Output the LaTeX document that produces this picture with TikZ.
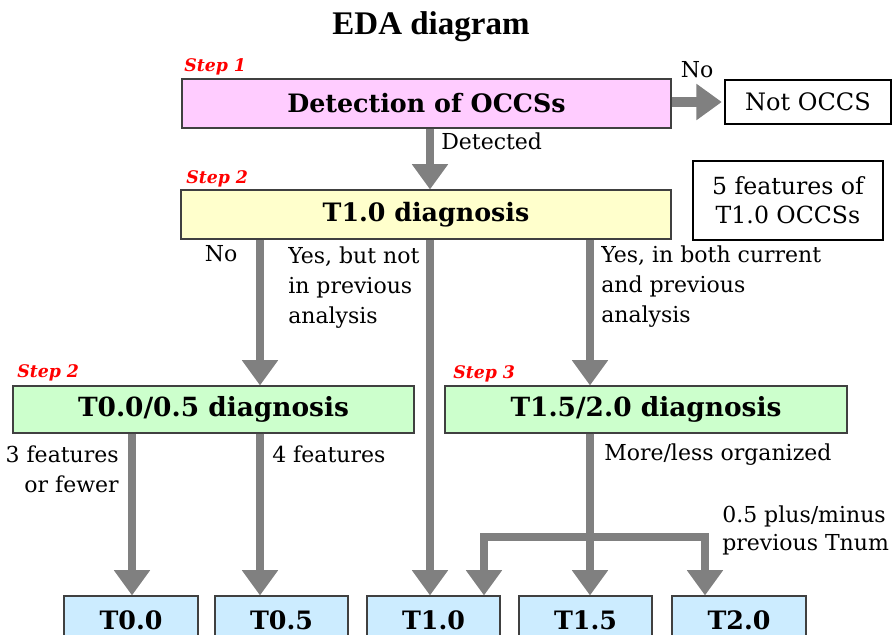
\documentclass[tikz,border=0pt]{standalone}
\usepackage{fontspec}
\setmainfont{DejaVu Serif}
\newfontfamily\titlefont{Liberation Serif}
\usetikzlibrary{arrows.meta}
\definecolor{stepred}{HTML}{FF0000}
\definecolor{arrowgrey}{HTML}{808080}
\definecolor{boxpink}{HTML}{FFCCFF}
\definecolor{boxyellow}{HTML}{FFFFCC}
\definecolor{boxgreen}{HTML}{CCFFCC}
\definecolor{boxblue}{HTML}{CCECFF}
\tikzset{
  sizebox/.style 2 args={minimum width=#1*0.75pt, minimum height=#2*0.75pt},
  flowbox/.style={draw=black!75, line width=0.8pt, inner sep=0pt,
    font=\fontsize{19}{23}\selectfont\bfseries},
  flowarrow/.style={draw=arrowgrey, line width=6.5pt, line join=miter,
    -{Triangle[width=26pt,length=19pt]}},
  steplabel/.style={text=stepred, inner sep=0pt, anchor=base west,
    font=\fontsize{13}{15}\selectfont\bfseries\itshape},
  edgelabel/.style={inner sep=0pt, align=left, font=\fontsize{16.5}{22.5}\selectfont},
}
\begin{document}
\begin{tikzpicture}[x=0.75pt,y=0.75pt,yscale=-1]
\useasboundingbox (0,0) rectangle (894,635);
\clip (0,0) rectangle (894,635);

\node[font=\titlefont\fontsize{24.75}{28}\selectfont\bfseries] (title) at (431,27) {EDA diagram};

\node[flowbox, sizebox={489}{49}, fill=boxpink] (detect) at (426.5,103.5) {Detection of OCCSs};
\node[flowbox, sizebox={166}{44}, draw=black, font=\fontsize{18}{21}\selectfont] (notoccs) at (808,102) {Not OCCS};
\node[flowbox, sizebox={490}{49}, fill=boxyellow] (t10) at (426,214.5) {T1.0 diagnosis};
\node[flowbox, sizebox={190}{79}, draw=black, line width=2pt, align=center,
  font=\fontsize{17.7}{21.75}\selectfont] (features) at (788,200.5) {5 features of\\T1.0 OCCSs};
\node[flowbox, sizebox={401}{47}, fill=boxgreen, font=\fontsize{19.8}{23}\selectfont\bfseries] (t005) at (213.5,409.5) {T0.0/0.5 diagnosis};
\node[flowbox, sizebox={402}{47}, fill=boxgreen, font=\fontsize{19.8}{23}\selectfont\bfseries] (t1520) at (646,409.5) {T1.5/2.0 diagnosis};

\node[flowbox, sizebox={134}{48}, fill=boxblue] (res00) at (131,620) {T0.0};
\node[flowbox, sizebox={133}{48}, fill=boxblue] (res05) at (281.5,620) {T0.5};
\node[flowbox, sizebox={133}{48}, fill=boxblue] (res10) at (433.5,620) {T1.0};
\node[flowbox, sizebox={133}{48}, fill=boxblue] (res15) at (585.5,620) {T1.5};
\node[flowbox, sizebox={134}{48}, fill=boxblue] (res20) at (739,620) {T2.0};

\node[steplabel] (step1) at (184,72) {Step 1};
\node[steplabel] (step2a) at (186,184) {Step 2};
\node[steplabel] (step2b) at (17,377) {Step 2};
\node[steplabel] (step3) at (453,378) {Step 3};

\coordinate (colA) at (132,0);
\coordinate (colB) at (260,0);
\coordinate (colC) at (430,0);
\coordinate (colD) at (484,0);
\coordinate (colE) at (590,0);
\coordinate (colF) at (705,0);
\coordinate (split) at (590,537);

\draw[flowarrow, line width=8pt, shorten >=2pt] (detect.east |- notoccs.west) -- (notoccs.west);
\draw[flowarrow] (detect.south -| colC) -- (t10.north -| colC);
\draw[flowarrow] (t10.south -| colB) -- (t005.north -| colB);
\draw[flowarrow] (t10.south -| colC) -- (res10.north -| colC);
\draw[flowarrow] (t10.south -| colE) -- (t1520.north -| colE);
\draw[flowarrow] (t005.south -| colA) -- (res00.north -| colA);
\draw[flowarrow] (t005.south -| colB) -- (res05.north -| colB);
\draw[flowarrow] (t1520.south -| colE) -- (res15.north -| colE);
\draw[flowarrow] (split) -| (res10.north -| colD);
\draw[flowarrow] (split) -| (res20.north -| colF);

\node[edgelabel, anchor=base] (nolabel) at (697,78) {No};
\node[edgelabel, anchor=base west] (detected) at (441,150) {Detected};
\node[edgelabel, anchor=base] (nolabel2) at (221,262) {No};
\node[edgelabel, anchor=base west] (yesnot) at (288,323) {Yes, but not\\in previous\\analysis};
\node[edgelabel, anchor=base west] (yesboth) at (601,322) {Yes, in both current\\and previous\\analysis};
\node[edgelabel, anchor=base east, align=right] (fewer) at (119,492) {3 features\\or fewer};
\node[edgelabel, anchor=base west] (four) at (272,462) {4 features};
\node[edgelabel, anchor=base west] (organized) at (604,460) {More/less organized};
\node[edgelabel, anchor=base west, font=\fontsize{16.5}{21}\selectfont] (plusminus) at (722,550) {0.5 plus/minus\\previous Tnum};
\end{tikzpicture}
\end{document}
